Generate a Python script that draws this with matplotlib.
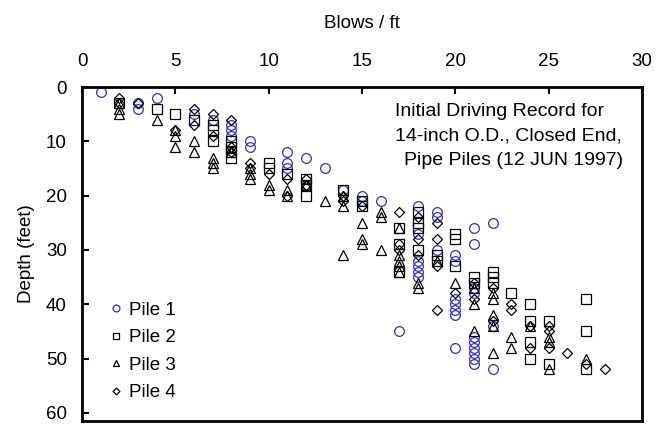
import matplotlib.pyplot as plt

plt.rcParams['font.family'] = ['Liberation Sans', 'DejaVu Sans']

# blows per foot vs depth (ft)
pile1_blows = [1, 3, 3, 4, 6, 7, 8, 8, 8, 9, 9, 11, 11, 11, 12, 12, 13, 14, 15, 15,
               16, 18, 18, 18, 18, 18, 18, 17, 19, 19, 19, 20, 20, 20, 20, 20, 20, 20,
               21, 21, 21, 21, 21, 21, 21, 21, 21, 21, 22, 22, 22]
pile1_depth = [1, 3, 4, 2, 5, 6, 7, 8, 9, 10, 11, 12, 14, 15, 13, 18, 15, 19, 20, 21,
               21, 22, 27, 32, 33, 34, 35, 45, 23, 24, 30, 31, 32, 39, 40, 41, 42, 48,
               26, 29, 37, 38, 46, 47, 48, 49, 50, 51, 25, 44, 52]

pile2_blows = [2, 4, 5, 6, 7, 7, 7, 8, 8, 8, 8, 10, 10, 11, 12, 12, 12, 14, 15, 15,
               17, 17, 17, 18, 18, 18, 18, 19, 19, 20, 20, 20, 21, 21, 22, 22, 22, 23,
               24, 24, 24, 24, 25, 25, 27, 27, 27]
pile2_depth = [3, 4, 5, 6, 7, 8, 10, 10, 11, 12, 13, 14, 15, 16, 17, 18, 20, 19, 21, 22,
               26, 29, 34, 23, 25, 26, 30, 31, 32, 27, 28, 33, 35, 36, 34, 35, 36, 38,
               40, 43, 47, 50, 43, 51, 39, 45, 52]

pile3_blows = [2, 2, 2, 4, 5, 5, 5, 6, 6, 7, 7, 7, 8, 9, 9, 9, 10, 10, 11, 11,
               12, 13, 14, 14, 14, 15, 15, 15, 16, 16, 16, 17, 17, 17, 17, 17, 18, 18,
               19, 20, 21, 21, 21, 22, 22, 22, 22, 22, 23, 23, 24, 25, 25, 25, 27]
pile3_depth = [3, 4, 5, 6, 8, 9, 11, 10, 12, 13, 14, 15, 12, 15, 16, 17, 18, 19, 19, 20,
               18, 21, 20, 22, 31, 25, 28, 29, 23, 24, 30, 26, 31, 32, 33, 34, 36, 37,
               32, 36, 37, 40, 45, 38, 39, 42, 44, 49, 46, 48, 44, 46, 47, 52, 50]

pile4_blows = [2, 2, 3, 5, 6, 6, 7, 7, 8, 8, 8, 9, 9, 10, 11, 11, 12, 12, 14, 14,
               15, 17, 17, 17, 18, 18, 18, 19, 19, 19, 19, 20, 21, 21, 22, 22, 23, 23,
               24, 24, 25, 25, 25, 26, 27, 28]
pile4_depth = [2, 3, 3, 8, 4, 7, 5, 9, 6, 11, 12, 14, 15, 16, 17, 20, 17, 18, 20, 21,
               22, 23, 29, 30, 24, 28, 31, 25, 28, 33, 41, 38, 36, 39, 37, 43, 40, 41,
               44, 48, 44, 45, 48, 49, 51, 52]

title_lines = ['Initial Driving Record for', '14-inch O.D., Closed End,', 'Pipe Piles (12 JUN 1997)']

blue = '#3333aa'

fig = plt.figure(figsize=(6.68, 4.24), dpi=100)
ax = fig.add_axes([82/668, 3/424, 560/668, 334/424])

ax.plot(pile1_blows, pile1_depth, 'o', ms=7, mfc='none', mec=blue, mew=0.9, label='Pile 1')
ax.plot(pile2_blows, pile2_depth, 's', ms=6.5, mfc='none', mec='k', mew=0.9, label='Pile 2')
ax.plot(pile3_blows, pile3_depth, '^', ms=7, mfc='none', mec='k', mew=0.9, label='Pile 3')
ax.plot(pile4_blows, pile4_depth, 'D', ms=5, mfc='none', mec='k', mew=0.9, label='Pile 4')

ax.set_xlim(0, 30)
ax.set_ylim(61.5, 0)
ax.set_xticks(range(0, 31, 5))
ax.set_yticks(range(0, 61, 10))
ax.xaxis.tick_top()
ax.xaxis.set_label_position('top')
ax.tick_params(axis='x', direction='in', length=5, width=1.5, labelsize=13.5, pad=12)
ax.tick_params(axis='y', direction='in', length=5, width=1.5, labelsize=13.5, pad=11)
for s in ax.spines.values():
    s.set_linewidth(2)

ax.set_xlabel('Blows / ft', fontsize=13.5, labelpad=18)
ax.set_ylabel('Depth (feet)', fontsize=13.5, labelpad=8)

# three centred lines, each sitting a little further right
for i, (xc, line) in enumerate(zip([22.35, 22.85, 23.1], title_lines)):
    ax.text(xc, 4.5 + 4.5 * i, line, ha='center', va='center', fontsize=14)

ax.legend(loc='lower left', bbox_to_anchor=(0.02, 0.008), frameon=False, fontsize=13.5,
          markerscale=0.7, handlelength=0.6, handletextpad=0.4, labelspacing=0.56)

plt.savefig('out.png', dpi=100)
